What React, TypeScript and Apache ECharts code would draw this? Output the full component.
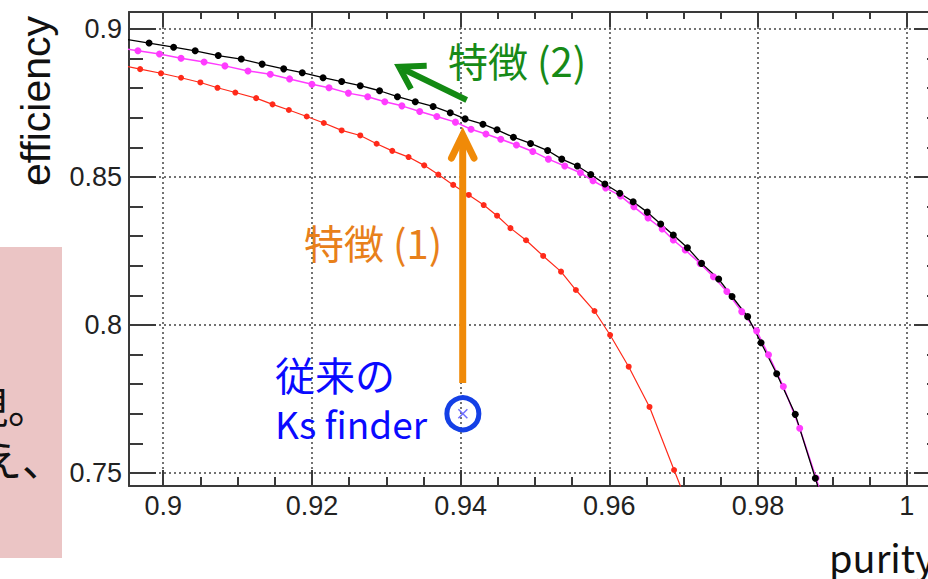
import React, { useEffect, useRef } from 'react';
import * as echarts from 'echarts';

const X_MIN = 0.8954;
const X_MAX = 1.0046;
const Y_MIN = 0.7456;
const Y_MAX = 0.9057;

const xMajorTicks = [0.9, 0.92, 0.94, 0.96, 0.98, 1.0];
const xMinorTicks = [0.905, 0.91, 0.915, 0.925, 0.93, 0.935, 0.945, 0.95, 0.955, 0.965, 0.97, 0.975, 0.985, 0.99, 0.995];
const yMajorTicks = [0.75, 0.8, 0.85, 0.9];
const yMinorTicks = [0.76, 0.77, 0.78, 0.79, 0.81, 0.82, 0.83, 0.84, 0.86, 0.87, 0.88, 0.89];

const purityBlack = [0.8942, 0.8981, 0.9014, 0.9043, 0.9074, 0.9105, 0.9133, 0.9162, 0.9187, 0.9215, 0.9240, 0.9265, 0.9291, 0.9315, 0.9339, 0.9363, 0.9386, 0.9406, 0.9430, 0.9449, 0.9471, 0.9494, 0.9517, 0.9536, 0.9557, 0.9575, 0.9594, 0.9614, 0.9632, 0.9651, 0.9669, 0.9686, 0.9705, 0.9724, 0.9747, 0.9765, 0.9786, 0.9804, 0.9825, 0.9850, 0.9877, 0.9886];
const effBlack = [0.8968, 0.8952, 0.8938, 0.8926, 0.8910, 0.8898, 0.8881, 0.8865, 0.8852, 0.8835, 0.8822, 0.8808, 0.8791, 0.8771, 0.8754, 0.8738, 0.8717, 0.8696, 0.8678, 0.8659, 0.8634, 0.8613, 0.8589, 0.8560, 0.8537, 0.8508, 0.8476, 0.8445, 0.8416, 0.8381, 0.8341, 0.8304, 0.8261, 0.8208, 0.8155, 0.8096, 0.8028, 0.7940, 0.7835, 0.7698, 0.7482, 0.7409];

const purityMagenta = [0.8942, 0.8966, 0.8995, 0.9024, 0.9055, 0.9083, 0.9114, 0.9144, 0.9170, 0.9200, 0.9223, 0.9249, 0.9275, 0.9298, 0.9321, 0.9345, 0.9368, 0.9393, 0.9414, 0.9434, 0.9454, 0.9475, 0.9497, 0.9518, 0.9540, 0.9561, 0.9578, 0.9595, 0.9615, 0.9633, 0.9652, 0.9671, 0.9686, 0.9702, 0.9722, 0.9740, 0.9758, 0.9778, 0.9798, 0.9814, 0.9834, 0.9856, 0.9878, 0.9887];
const effMagenta = [0.8935, 0.8926, 0.8915, 0.8901, 0.8888, 0.8875, 0.8858, 0.8847, 0.8831, 0.8813, 0.8801, 0.8783, 0.8771, 0.8754, 0.8740, 0.8721, 0.8704, 0.8685, 0.8661, 0.8645, 0.8627, 0.8608, 0.8586, 0.8560, 0.8537, 0.8514, 0.8487, 0.8463, 0.8436, 0.8399, 0.8361, 0.8324, 0.8287, 0.8253, 0.8208, 0.8163, 0.8113, 0.8045, 0.7980, 0.7899, 0.7792, 0.7651, 0.7483, 0.7409];

const purityRed = [0.8942, 0.8969, 0.8997, 0.9024, 0.9050, 0.9073, 0.9097, 0.9125, 0.9147, 0.9169, 0.9193, 0.9216, 0.9240, 0.9265, 0.9287, 0.9308, 0.9330, 0.9351, 0.9370, 0.9390, 0.9411, 0.9431, 0.9449, 0.9467, 0.9488, 0.9511, 0.9535, 0.9555, 0.9580, 0.9601, 0.9626, 0.9654, 0.9687, 0.9703];
const effRed = [0.8878, 0.8864, 0.8850, 0.8835, 0.8819, 0.8801, 0.8785, 0.8766, 0.8745, 0.8726, 0.8704, 0.8682, 0.8657, 0.8640, 0.8612, 0.8588, 0.8567, 0.8539, 0.8508, 0.8473, 0.8439, 0.8405, 0.8369, 0.8327, 0.8286, 0.8233, 0.8180, 0.8118, 0.8047, 0.7966, 0.7859, 0.7723, 0.7510, 0.7409];

const ksFinderPoint = [0.9403, 0.77];

const zip = (xs: number[], ys: number[]) => xs.map((x, i) => [x, ys[i]]);

const AXIS_COLOR = '#3a3a3a';
const CJK = '"Noto Sans CJK JP", "Noto Sans", sans-serif';
const LAB_FONT = '"Liberation Sans", Arial, sans-serif';

function xAxisDef(position: 'top' | 'bottom', ticks: number[], len: number, major: boolean, labels: boolean) {
  return {
    type: 'value',
    min: X_MIN,
    max: X_MAX,
    position,
    axisLine: { show: major, onZero: false, lineStyle: { color: AXIS_COLOR, width: 2 } },
    axisTick: { show: true, inside: true, length: len, customValues: ticks, lineStyle: { color: AXIS_COLOR, width: 2 } },
    axisLabel: labels
      ? { show: true, customValues: ticks, margin: 6, fontSize: 27, fontFamily: LAB_FONT, color: '#222' }
      : { show: false },
    splitLine: labels
      ? { show: true, lineStyle: { color: '#444', width: 1.5, type: [2, 3] } }
      : { show: false },
  };
}

function yAxisDef(position: 'left' | 'right', ticks: number[], len: number, major: boolean, labels: boolean) {
  return {
    type: 'value',
    min: Y_MIN,
    max: Y_MAX,
    position,
    axisLine: { show: major, onZero: false, lineStyle: { color: AXIS_COLOR, width: 2 } },
    axisTick: { show: true, inside: true, length: len, customValues: ticks, lineStyle: { color: AXIS_COLOR, width: 2 } },
    axisLabel: labels
      ? { show: true, customValues: ticks, margin: 7, fontSize: 27, fontFamily: LAB_FONT, color: '#222' }
      : { show: false },
    splitLine: labels
      ? { show: true, lineStyle: { color: '#444', width: 1.5, type: [2, 3] } }
      : { show: false },
  };
}

export default function App() {
  const ref = useRef<HTMLDivElement>(null);

  useEffect(() => {
    if (!ref.current) return;
    const chart = echarts.init(ref.current, null, { renderer: 'svg' });

    const curve = (name: string, xs: number[], ys: number[], color: string, lw: number, size: number) => ({
      name,
      type: 'line',
      xAxisIndex: 0,
      yAxisIndex: 0,
      data: zip(xs, ys),
      clip: true,
      symbol: 'circle',
      symbolSize: size,
      showSymbol: true,
      lineStyle: { color, width: lw },
      itemStyle: { color },
      emphasis: { disabled: true },
      z: 3,
    });

    chart.setOption({
      animation: false,
      backgroundColor: '#ffffff',
      grid: { left: 129, top: 12, width: 812, height: 474, show: false, outerBoundsMode: 'none', containLabel: false },
      xAxis: [
        xAxisDef('bottom', xMajorTicks, 16, true, true),
        xAxisDef('top', xMajorTicks, 15, true, false),
        xAxisDef('bottom', xMinorTicks, 9, false, false),
        xAxisDef('top', xMinorTicks, 7, false, false),
      ],
      yAxis: [
        yAxisDef('left', yMajorTicks, 27, true, true),
        yAxisDef('right', yMajorTicks, 27, true, false),
        yAxisDef('left', yMinorTicks, 14, false, false),
        yAxisDef('right', yMinorTicks, 14, false, false),
      ],
      series: [
        curve('red', purityRed, effRed, '#ff2a1a', 1.2, 6),
        curve('magenta', purityMagenta, effMagenta, '#ff3cff', 1.5, 7),
        curve('black', purityBlack, effBlack, '#000000', 1.3, 7),
        {
          name: 'Ks finder circle',
          type: 'scatter',
          data: [ksFinderPoint],
          symbol: 'circle',
          symbolSize: 32,
          itemStyle: { color: 'rgba(0,0,0,0)', borderColor: '#1440e6', borderWidth: 5, opacity: 1 },
          emphasis: { disabled: true },
          z: 5,
        },
        {
          name: 'Ks finder',
          type: 'scatter',
          data: [ksFinderPoint],
          symbol: 'path://M0,0L10,10M10,0L0,10',
          symbolSize: 9,
          itemStyle: { color: 'none', borderColor: '#6f6fff', borderWidth: 1.5, opacity: 1 },
          emphasis: { disabled: true },
          z: 6,
        },
      ],
      graphic: [
        { type: 'rect', shape: { x: 0, y: 247, width: 62, height: 311 }, style: { fill: '#ebc5c5' }, z: 1 },
        { type: 'text', x: 50, y: 404, style: { text: 'を実現。', fontSize: 42, lineHeight: 42, fontFamily: CJK, fill: '#111', align: 'right', verticalAlign: 'middle' }, z: 2 },
        { type: 'text', x: 64, y: 457, style: { text: 'を考え、', fontSize: 42, lineHeight: 42, fontFamily: CJK, fill: '#111', align: 'right', verticalAlign: 'middle' }, z: 2 },
        { type: 'text', x: 36, y: 101, rotation: Math.PI / 2, style: { text: 'efficiency', fontSize: 41, fontFamily: LAB_FONT, fill: '#111', align: 'center', verticalAlign: 'middle' }, z: 2 },
        { type: 'text', x: 829, y: 556, style: { text: 'purity', fontSize: 38, fontFamily: CJK, fill: '#111', align: 'left', verticalAlign: 'middle' }, z: 2 },
        { type: 'line', shape: { x1: 466.7, y1: 100, x2: 402, y2: 68.5 }, style: { stroke: '#138a13', lineWidth: 6 }, z: 10 },
        { type: 'polyline', shape: { points: [[426.7, 65.7], [399, 66.7], [411, 89]] }, style: { stroke: '#138a13', lineWidth: 6, fill: 'none', lineJoin: 'miter' }, z: 10 },
        { type: 'text', x: 448, y: 60, style: { text: '特徴 (2)', fontSize: 40, lineHeight: 40, fontFamily: CJK, fill: '#178a17', align: 'left', verticalAlign: 'middle' }, z: 10 },
        { type: 'line', shape: { x1: 462.7, y1: 383, x2: 462.7, y2: 138 }, style: { stroke: '#f08a08', lineWidth: 7 }, z: 10 },
        { type: 'polyline', shape: { points: [[451.5, 158], [462.7, 135], [474, 158]] }, style: { stroke: '#f08a08', lineWidth: 7, fill: 'none', lineCap: 'round', lineJoin: 'miter' }, z: 10 },
        { type: 'text', x: 304, y: 242, style: { text: '特徴 (1)', fontSize: 40, lineHeight: 40, fontFamily: CJK, fill: '#e8801a', align: 'left', verticalAlign: 'middle' }, z: 10 },
        { type: 'text', x: 275, y: 374, style: { text: '従来の', fontSize: 40, lineHeight: 40, fontFamily: CJK, fill: '#0a0aff', align: 'left', verticalAlign: 'middle' }, z: 10 },
        { type: 'text', x: 275, y: 423, style: { text: 'Ks finder', fontSize: 37, lineHeight: 37, fontFamily: CJK, fill: '#0a0aff', align: 'left', verticalAlign: 'middle' }, z: 10 },
      ],
    });

    return () => chart.dispose();
  }, []);

  return <div ref={ref} style={{ position: 'fixed', left: 0, top: 0, width: 928, height: 579 }} />;
}
